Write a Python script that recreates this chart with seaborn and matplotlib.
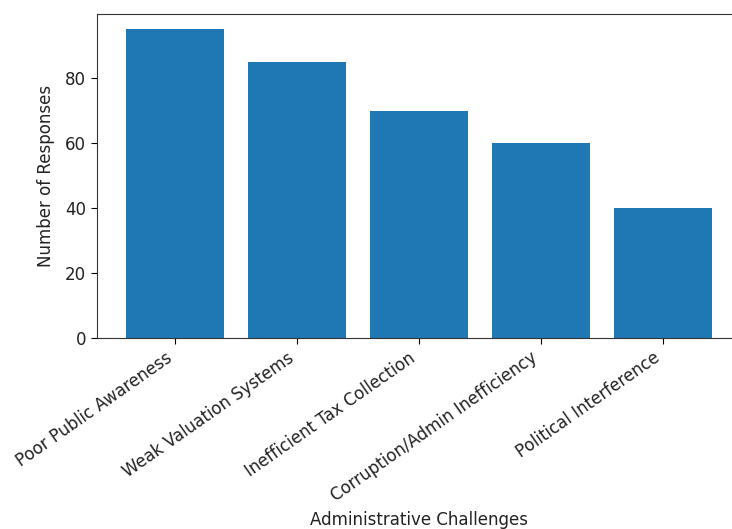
import matplotlib
matplotlib.use('Agg')
import matplotlib.pyplot as plt
import seaborn as sns

# Survey data: administrative challenges and response counts
challenges = [
    'Poor Public Awareness',
    'Weak Valuation Systems',
    'Inefficient Tax Collection',
    'Corruption/Admin Inefficiency',
    'Political Interference',
]
responses = [95, 85, 70, 60, 40]

plt.rcParams['font.size'] = 12
plt.rcParams['xtick.major.size'] = 4.2
plt.rcParams['ytick.major.size'] = 4.2

fig = plt.figure(figsize=(7.32, 5.29), dpi=100)
# axes run past the right edge, the reference is a cropped screenshot
ax = fig.add_axes([97 / 732, 191 / 529, 644 / 732, 324 / 529])

sns.barplot(x=challenges, y=responses, color='#1f77b4', saturation=1, width=0.8, ax=ax)

ax.set_xlim(-0.64, 4.64)
ax.set_ylim(0, 99.75)
ax.set_xlabel('Administrative Challenges', fontsize=12, color='#222222')
ax.set_ylabel('Number of Responses', fontsize=12, color='#222222', labelpad=7.5)
plt.setp(ax.get_xticklabels(), rotation=35, ha='right', fontsize=12, color='#222222')
plt.setp(ax.get_yticklabels(), fontsize=12, color='#222222')
for s in ax.spines.values():
    s.set_color('#333333')

fig.savefig('out.png', dpi=100)
